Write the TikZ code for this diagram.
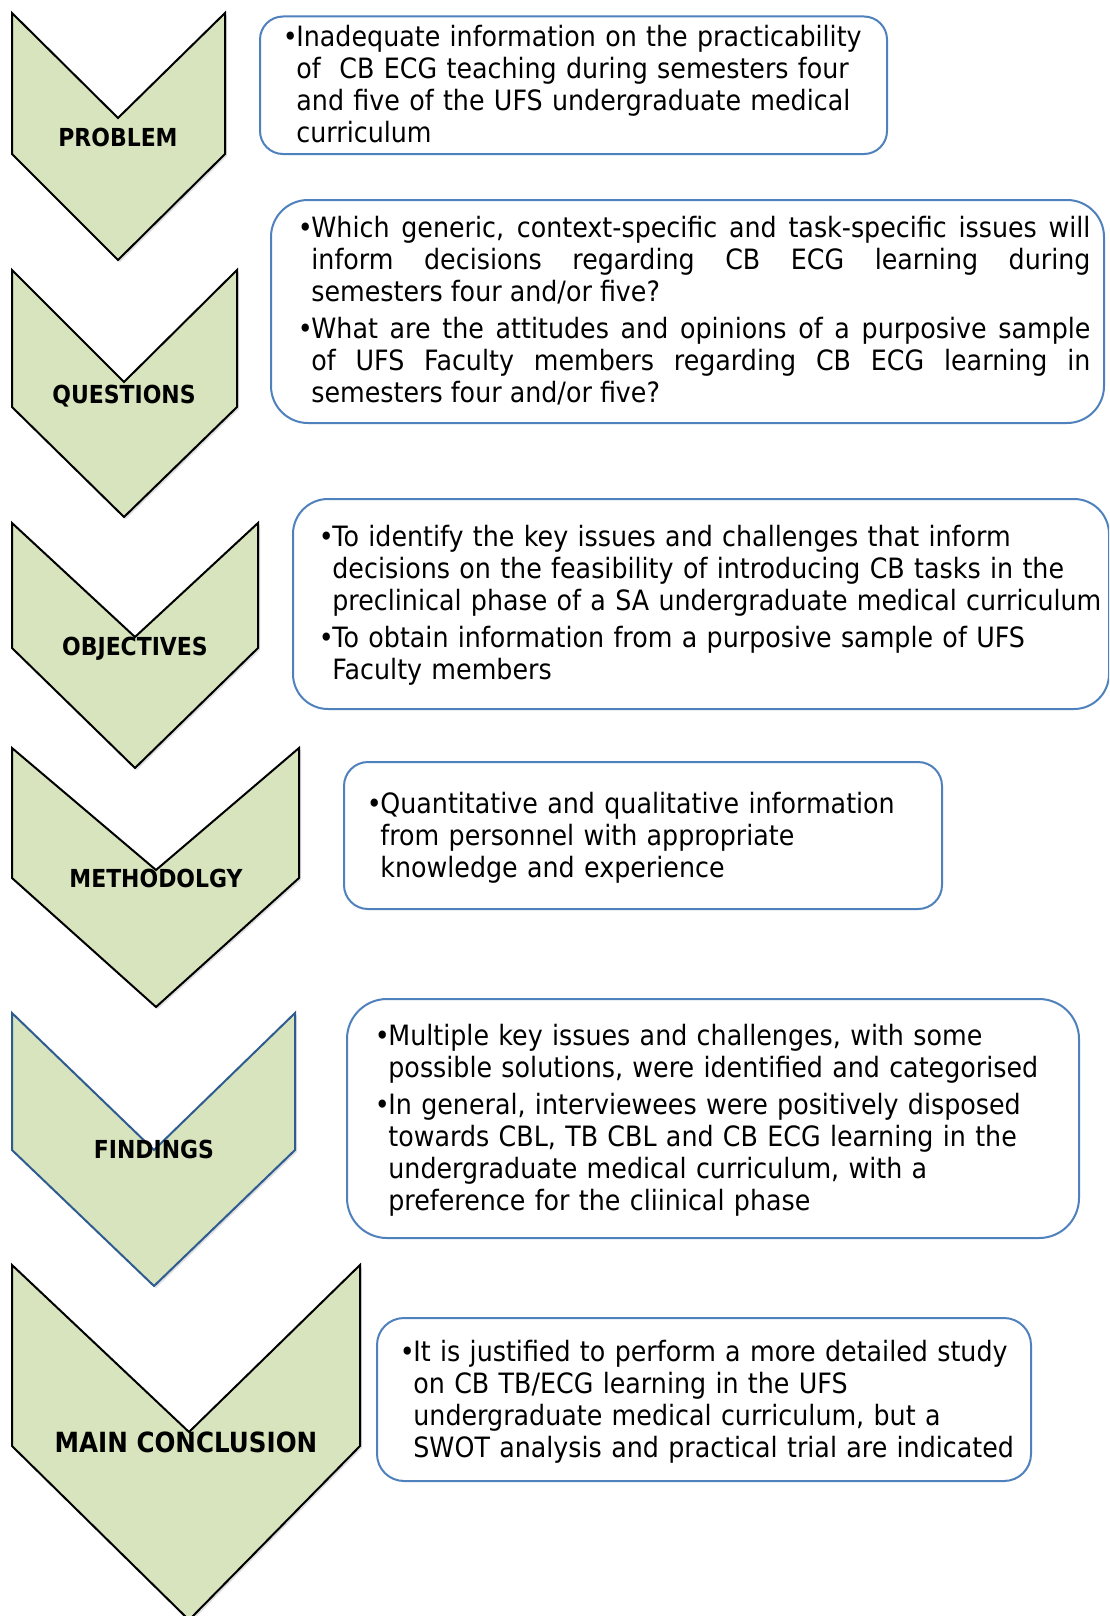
\documentclass[tikz,border=0pt]{standalone}
\usepackage{fontspec}
\setmainfont{DejaVu Sans}[FakeStretch=0.905]
\newfontfamily\labelfont{DejaVu Sans}[FakeStretch=0.885]

\definecolor{chevfill}{HTML}{D7E4BD}
\definecolor{boxline}{HTML}{4F81BD}
\definecolor{findline}{HTML}{2E5C91}

% bullet paragraph with hanging indent
\newcommand\bpt{\noindent\hangindent=6pt\hangafter=1\hbox to 6pt{\hss\textbullet\hss}}
\newcommand\bodysetup{\parskip=2.5pt\tolerance=10000\hbadness=10000\relax}

\tikzset{
  chev/.style={fill=chevfill, draw=black, line width=1pt, line join=miter},
  chevshadow/.style={fill=black, opacity=0.12, draw=none},
  lab/.style={inner sep=0pt, text height=9.04pt, text depth=0pt,
    font={\labelfont\bfseries\fontsize{12.4pt}{14pt}\selectfont}},
  biglab/.style={inner sep=0pt, text height=10.13pt, text depth=0pt,
    font={\labelfont\bfseries\fontsize{13.9pt}{16pt}\selectfont}},
  infobox/.style={draw=boxline, line width=1pt, fill=white},
  txt/.style={anchor=north west, inner sep=0pt, align=left, text width=420pt,
    font={\fontsize{14pt}{16pt}\selectfont}},
  jtxt/.style={txt, align=justify}
}

\begin{document}
\begin{tikzpicture}[x=0.5pt, y=-0.5pt]
\useasboundingbox (0,0) rectangle (1109,1616);
\clip (0,0) rectangle (1109,1616);
\fill[white] (0,0) rectangle (1109,1616);

% ---- chevrons ----
\begin{scope}[shift={(2,2)}]
  \fill[chevshadow] (12,13) -- (118,118) -- (225,13) -- (225,154) -- (118,260) -- (12,154) -- cycle;
  \fill[chevshadow] (12,270) -- (124,382) -- (237,270) -- (237,407) -- (124,517) -- (12,407) -- cycle;
  \fill[chevshadow] (12,523) -- (135,637) -- (258,523) -- (258,648) -- (135,768) -- (12,648) -- cycle;
  \fill[chevshadow] (12,748) -- (156,870) -- (299,748) -- (299,878) -- (156,1007) -- (12,878) -- cycle;
  \fill[chevshadow] (12,1013) -- (154,1150) -- (295,1013) -- (295,1150) -- (154,1286) -- (12,1150) -- cycle;
  \fill[chevshadow] (12,1265) -- (189,1432) -- (360,1265) -- (360,1446) -- (189,1620) -- (12,1446) -- cycle;
\end{scope}

\draw[chev] (12,13) -- (118,118) -- (225,13) -- (225,154) -- (118,260) -- (12,154) -- cycle;
\draw[chev] (12,270) -- (124,382) -- (237,270) -- (237,407) -- (124,517) -- (12,407) -- cycle;
\draw[chev] (12,523) -- (135,637) -- (258,523) -- (258,648) -- (135,768) -- (12,648) -- cycle;
\draw[chev] (12,748) -- (156,870) -- (299,748) -- (299,878) -- (156,1007) -- (12,878) -- cycle;
\draw[chev, draw=findline] (12,1013) -- (154,1150) -- (295,1013) -- (295,1150) -- (154,1286) -- (12,1150) -- cycle;
\draw[chev] (12,1265) -- (189,1432) -- (360,1265) -- (360,1446) -- (189,1620) -- (12,1446) -- cycle;

\node[lab] (problem) at (118,137) {PROBLEM};
\node[lab] (questions) at (124,394) {QUESTIONS};
\node[lab] (objectives) at (135,646) {OBJECTIVES};
\node[lab] (methodology) at (156,878) {METHODOLGY};
\node[lab] (findings) at (154,1149) {FINDINGS};
\node[biglab] (conclusion) at (186,1442) {MAIN CONCLUSION};

% ---- information boxes ----
\draw[infobox, rounded corners=11.5pt] (260,16.5) rectangle (887,154);
\draw[infobox, rounded corners=18.5pt] (271,200) rectangle (1104,423);
\draw[infobox, rounded corners=17.5pt] (293,499) rectangle (1109,709);
\draw[infobox, rounded corners=12pt] (344,762) rectangle (942,909);
\draw[infobox, rounded corners=20pt] (347,999) rectangle (1079,1238);
\draw[infobox, rounded corners=13.5pt] (377,1318) rectangle (1031,1481);

\node[txt] (t1) at (284,24.7) {\bodysetup
\bpt Inadequate information on the practicability\newline
of\ \ CB ECG teaching during semesters four\newline
and five of the UFS undergraduate medical\newline
curriculum\par};

\node[jtxt, text width=395.5pt] (t2) at (299,215.7) {\bodysetup
\bpt Which generic, context-specific and task-specific issues will\linebreak
inform decisions regarding CB ECG learning during\linebreak
semesters four and/or five?\par
\bpt What are the attitudes and opinions of a purposive sample\linebreak
of UFS Faculty members regarding CB ECG learning in\linebreak
semesters four and/or five?\par};

\node[txt] (t3) at (320,524.7) {\bodysetup
\bpt To identify the key issues and challenges that inform\newline
decisions on the feasibility of introducing CB tasks in the\newline
preclinical phase of a SA undergraduate medical curriculum\par
\bpt To obtain information from a purposive sample of UFS\newline
Faculty members\par};

\node[txt] (t4) at (368,791.7) {\bodysetup
\bpt Quantitative and qualitative information\newline
from personnel with appropriate\newline
knowledge and experience\par};

\node[txt] (t5) at (376,1023.7) {\bodysetup
\bpt Multiple key issues and challenges, with some\newline
possible solutions, were identified and categorised\par
\bpt In general, interviewees were positively disposed\newline
towards CBL, TB CBL and CB ECG learning in the\newline
undergraduate medical curriculum, with a\newline
preference for the cliinical phase\par};

\node[txt] (t6) at (401,1339.7) {\bodysetup
\bpt It is justified to perform a more detailed study\newline
on CB TB/ECG learning in the UFS\newline
undergraduate medical curriculum, but a\newline
SWOT analysis and practical trial are indicated\par};
\end{tikzpicture}
\end{document}
